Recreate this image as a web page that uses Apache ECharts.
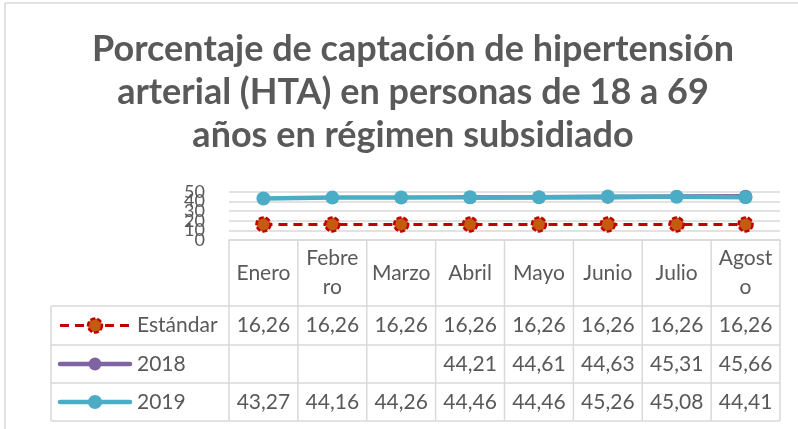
<!DOCTYPE html>
<html><head><meta charset="utf-8">
<script src="https://cdn.jsdelivr.net/npm/echarts@6/dist/echarts.min.js"></script>
<style>html,body{margin:0;padding:0;background:#fff}#c{width:798px;height:429px}</style>
</head><body><div id="c"></div>
<script>
const titleText = "Porcentaje de captación de hipertensión\narterial (HTA) en personas de 18 a 69\naños en régimen subsidiado";
const months = ["Enero","Febrero","Marzo","Abril","Mayo","Junio","Julio","Agosto"];
const headerLabels = ["Enero","Febre\nro","Marzo","Abril","Mayo","Junio","Julio","Agost\no"];
const seriesNames = ["Estándar","2018","2019"];
const estandar = [16.26,16.26,16.26,16.26,16.26,16.26,16.26,16.26];
const y2018 = [null,null,null,44.21,44.61,44.63,45.31,45.66];
const y2019 = [43.27,44.16,44.26,44.46,44.46,45.26,45.08,44.41];
const yTicks = [0,10,20,30,40,50];

const FONT = 'Lato';
const GRAY = '#595959';
const LINE = '#d9d9d9';
const W = 798, H = 429;
const gridLeft = 229, gridRight = 780, gridTop = 192, gridBottom = 240;
const headerTop = 240;
const rowEdges = [306, 345, 383, 421];
const legendLeft = 51;

const seriesStyles = [
  {line:{color:'#C00000', width:3, type:[9,6]}, item:{color:'#C55A11', borderColor:'#C00000', borderWidth:2.5, borderType:[5,2]}, size:14},
  {line:{color:'#8064A2', width:4.5, type:'solid'}, item:{color:'#8064A2'}, size:13},
  {line:{color:'#4BACC6', width:4.5, type:'solid'}, item:{color:'#4BACC6'}, size:14}
];
const seriesData = [estandar, y2018, y2019];

const chart = echarts.init(document.getElementById('c'), null, {renderer:'canvas'});
const option = {
  backgroundColor:'#fff',
  animation:false,
  title:{text:titleText, left:408, top:23, textAlign:'center',
    textStyle:{fontFamily:FONT, fontWeight:'bold', fontSize:36, color:GRAY, lineHeight:43}},
  grid:{left:gridLeft, right:W-gridRight, top:gridTop, bottom:H-gridBottom, containLabel:false},
  xAxis:{type:'category', data:months, boundaryGap:true,
    axisLine:{show:true, lineStyle:{color:LINE, width:1.5}}, axisTick:{show:false}, axisLabel:{show:false}},
  yAxis:{type:'value', min:yTicks[0], max:yTicks[yTicks.length-1], interval:yTicks[1]-yTicks[0],
    axisLine:{show:false}, axisTick:{show:false},
    splitLine:{lineStyle:{color:LINE, width:1.5}},
    axisLabel:{show:false}},
  series: seriesNames.map((n,i)=>({
    name:n, type:'line', data:seriesData[i], symbol:'circle', symbolSize:seriesStyles[i].size,
    lineStyle:seriesStyles[i].line, itemStyle:seriesStyles[i].item, z:2+i, connectNulls:false
  }))
};
chart.setOption(option);

const els = [];
// y-axis tick labels (Excel draws them overlapping)
yTicks.forEach(t=>{
  const py = chart.convertToPixel({yAxisIndex:0}, t);
  els.push({type:'text', x:gridLeft-24, y:py, style:{text:String(t), fill:GRAY, font:'18px '+FONT, align:'right', verticalAlign:'middle'}, silent:true});
});
// data table
const lineEl = (x1,y1,x2,y2)=>({type:'line', shape:{x1,y1,x2,y2}, style:{stroke:LINE, lineWidth:1.5}, silent:true});
const cx = months.map((m,i)=>chart.convertToPixel({xAxisIndex:0}, i));
const colW = cx.length>1 ? cx[1]-cx[0] : (gridRight-gridLeft);
const bounds = [cx[0]-colW/2].concat(cx.map(c=>c+colW/2));
bounds.forEach(b=>els.push(lineEl(b, headerTop, b, rowEdges[3])));
els.push(lineEl(legendLeft, rowEdges[0], legendLeft, rowEdges[3]));
rowEdges.forEach(y=>els.push(lineEl(legendLeft, y, bounds[bounds.length-1], y)));
// chart border
els.push(lineEl(5, 3, 5, H));
els.push(lineEl(5, 3, W, 3));
const txt = (x,y,t,align)=>({type:'text', x, y, style:{text:t, fill:GRAY, font:'21px '+FONT, align:align||'center', verticalAlign:'middle', lineHeight:29}, silent:true});
headerLabels.forEach((h,i)=>els.push(txt(cx[i], (headerTop+rowEdges[0])/2, h)));
const fmt = v => v==null ? '' : v.toFixed(2).replace('.', ',');
seriesData.forEach((arr,r)=>{
  const yc = (rowEdges[r]+rowEdges[r+1])/2;
  arr.forEach((v,i)=>{ if(v!=null) els.push(txt(cx[i], yc, fmt(v))); });
  const st = seriesStyles[r];
  els.push({type:'line', shape:{x1:60,y1:yc,x2:130,y2:yc}, style:{stroke:st.line.color, lineWidth:st.line.width, lineDash:Array.isArray(st.line.type)?st.line.type:null, lineCap: r===0?'butt':'round'}, silent:true});
  els.push({type:'circle', shape:{cx:95, cy:yc, r:st.size/2}, style:{fill:st.item.color, stroke:st.item.borderColor||null, lineWidth:st.item.borderWidth||0, lineDash:Array.isArray(st.item.borderType)?st.item.borderType:null}, silent:true});
  els.push(txt(137, yc, seriesNames[r], 'left'));
});
chart.setOption({graphic:{elements:els}});
</script></body></html>
